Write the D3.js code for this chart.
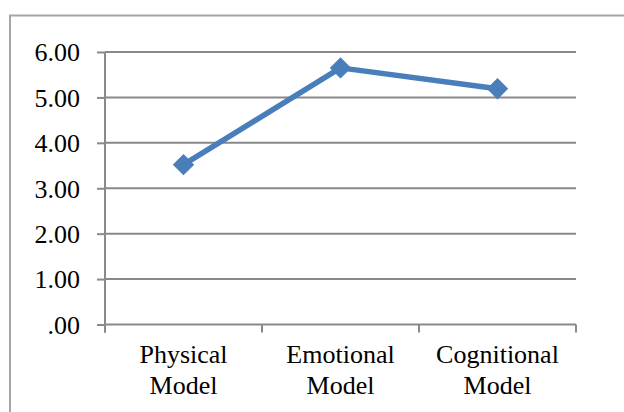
<!DOCTYPE html>
<html>
<head>
<meta charset="utf-8">
<script src="https://cdn.jsdelivr.net/npm/d3@7"></script>
<style>
  html, body { margin: 0; padding: 0; background: #fff; }
  svg { display: block; }
  text { font-family: "Liberation Serif", "Times New Roman", serif; fill: #000; }
</style>
</head>
<body>
<svg id="chart" width="624" height="412"></svg>
<script>
// Mean score per model
const categories = [["Physical", "Model"], ["Emotional", "Model"], ["Cognitional", "Model"]];
const values = [3.52, 5.65, 5.19];
const yTicks = [0, 1, 2, 3, 4, 5, 6];

const svg = d3.select("#chart");
const plotLeft = 105, plotRight = 576, plotTop = 52, plotBottom = 324.5;

// Chart frame (extends past the visible page on the right and bottom)
svg.append("rect")
  .attr("x", 10).attr("y", 15.5)
  .attr("width", 700).attr("height", 500)
  .attr("fill", "none").attr("stroke", "#a6a6a6").attr("stroke-width", 2);

const x = d3.scaleBand().domain(d3.range(categories.length)).range([plotLeft, plotRight]).padding(0);
const y = d3.scaleLinear().domain([0, 6]).range([plotBottom, plotTop]);

const gridColor = "#898989";

// Horizontal gridlines
svg.append("g").selectAll("line").data(yTicks).join("line")
  .attr("x1", plotLeft).attr("x2", plotRight)
  .attr("y1", d => y(d)).attr("y2", d => y(d))
  .attr("stroke", gridColor).attr("stroke-width", 2);

// Y axis
const yAxis = d3.axisLeft(y).tickValues(yTicks).tickSize(8).tickPadding(17)
  .tickFormat(d => d === 0 ? ".00" : d3.format(".2f")(d));
const gy = svg.append("g").attr("transform", `translate(${plotLeft},0)`).call(yAxis);
gy.select(".domain").remove();
gy.selectAll(".tick line").attr("stroke", gridColor).attr("stroke-width", 2);
gy.selectAll(".tick text").attr("font-size", 26).attr("font-family", "Liberation Serif").attr("dy", "0.34em");
gy.append("line").attr("x1", 0).attr("x2", 0).attr("y1", plotTop).attr("y2", plotBottom + 8)
  .attr("stroke", gridColor).attr("stroke-width", 2);

// X axis: tick marks at category boundaries
const boundaries = d3.range(categories.length + 1).map(i => i < categories.length ? x(i) : x(i - 1) + x.bandwidth());
svg.append("g").selectAll("line").data(boundaries).join("line")
  .attr("x1", d => d).attr("x2", d => d)
  .attr("y1", plotBottom).attr("y2", plotBottom + 8)
  .attr("stroke", gridColor).attr("stroke-width", 2);

// Category labels
const lab = svg.append("g").selectAll("text").data(categories).join("text")
  .attr("text-anchor", "middle")
  .attr("font-size", 26);
lab.each(function(d, i) {
  const t = d3.select(this);
  const cx = x(i) + x.bandwidth() / 2;
  d.forEach((line, j) => {
    t.append("tspan").attr("x", cx).attr("y", 363 + j * 31).text(line);
  });
});

// Series line
const blue = "#4a7ebb";
const line = d3.line().x((d, i) => x(i) + x.bandwidth() / 2).y(d => y(d));
svg.append("path").datum(values)
  .attr("d", line).attr("fill", "none")
  .attr("stroke", blue).attr("stroke-width", 5.5).attr("stroke-linejoin", "round");

// Diamond markers
svg.append("g").selectAll("path").data(values).join("path")
  .attr("transform", (d, i) => `translate(${x(i) + x.bandwidth() / 2},${y(d)}) rotate(45)`)
  .attr("d", d3.symbol().type(d3.symbolSquare).size(200))
  .attr("fill", blue).attr("stroke", blue).attr("stroke-width", 1);
</script>
</body>
</html>
